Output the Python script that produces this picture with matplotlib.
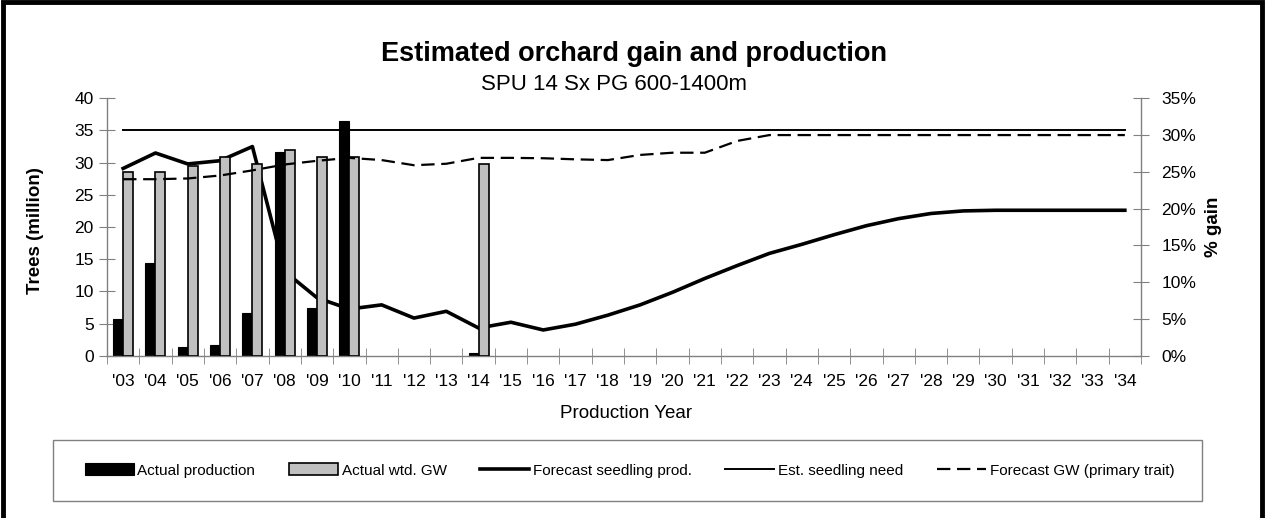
import numpy as np
import matplotlib
matplotlib.use("Agg")
import matplotlib.pyplot as plt
from matplotlib.patches import Rectangle
from matplotlib.ticker import FixedLocator, FuncFormatter

plt.rcParams['font.family'] = ['Liberation Sans', 'DejaVu Sans']

# lata produkcji '03 .. '34
lata = [f"'{r % 100:02d}" for r in range(2003, 2035)]

nan = np.nan
# Actual production (Trees, million) - lewa oś
actual_production = [5.65, 14.45, 1.4, 1.7, 6.7, 31.6, 7.4, 36.5, nan, nan, nan, 0.35] + [nan] * 20
# Actual wtd. GW (% gain) - prawa oś
actual_gw = [25.0, 25.0, 25.8, 27.0, 26.0, 28.0, 27.0, 27.0, nan, nan, nan, 26.0] + [nan] * 20
# Forecast seedling prod. (Trees, million)
forecast_prod = [29.1, 31.5, 29.8, 30.3, 32.5, 13.1, 9.0, 7.25, 7.9, 5.85, 6.9, 4.3,
                 5.2, 4.0, 4.9, 6.3, 7.9, 9.85, 12.0, 14.0, 15.9, 17.3, 18.8, 20.2,
                 21.3, 22.1, 22.5, 22.6, 22.6, 22.6, 22.6, 22.6]
# Est. seedling need (Trees, million)
seedling_need = [35.0] * 32
# Forecast GW (primary trait) (% gain)
forecast_gw = [24.0, 24.0, 24.1, 24.5, 25.2, 26.0, 26.5, 26.9, 26.6, 25.9, 26.1, 26.9,
               26.9, 26.85, 26.7, 26.6, 27.3, 27.6, 27.6, 29.2, 30.0, 30.0, 30.0, 30.0,
               30.0, 30.0, 30.0, 30.0, 30.0, 30.0, 30.0, 30.0]

x = np.arange(len(lata))
szer = 0.31
szary_os = '#808080'

fig = plt.figure(figsize=(12.67, 5.18), dpi=100)
ax = fig.add_axes([107 / 1267, 1 - 355.7 / 518, (1141 - 107) / 1267, (355.7 - 98.3) / 518])
ax2 = ax.twinx()

b1 = ax.bar(x - szer / 2, actual_production, width=szer, color='black', edgecolor='black', linewidth=0.8,
            label='Actual production', zorder=2)
l1, = ax.plot(x, forecast_prod, color='black', linewidth=2.6, label='Forecast seedling prod.', zorder=3)
l2, = ax.plot(x, seedling_need, color='black', linewidth=1.4, label='Est. seedling need', zorder=3)

b2 = ax2.bar(x + szer / 2, actual_gw, width=szer, color='#C0C0C0', edgecolor='black', linewidth=1.2,
             label='Actual wtd. GW', zorder=2)
l3, = ax2.plot(x, forecast_gw, color='black', linewidth=1.6, linestyle=(0, (6, 3)),
               label='Forecast GW (primary trait)', zorder=3)

ax.set_xlim(-0.5, len(lata) - 0.5)
ax.set_ylim(0, 40)
ax2.set_ylim(0, 35)
ax.set_yticks(np.arange(0, 41, 5))
ax2.set_yticks(np.arange(0, 36, 5))
ax2.yaxis.set_major_formatter(FuncFormatter(lambda v, p: f"{v:.0f}%"))

ax.set_xticks(x)
ax.set_xticklabels(lata)
ax.xaxis.set_minor_locator(FixedLocator(np.arange(-0.5, len(lata), 1.0)))

for a in (ax, ax2):
    for s in a.spines.values():
        s.set_color(szary_os)
        s.set_linewidth(1.0)
    a.spines['top'].set_visible(False)
    a.set_facecolor('none')
ax.spines['right'].set_visible(False)
ax2.spines['left'].set_visible(False)
ax2.spines['bottom'].set_visible(False)

ax.tick_params(axis='x', which='major', length=0, pad=13, labelsize=12.5)
ax.tick_params(axis='x', which='minor', length=11, direction='inout', color=szary_os)
ax.tick_params(axis='y', length=11, direction='inout', color=szary_os, labelsize=12.5, pad=4)
ax2.tick_params(axis='y', length=11, direction='inout', color=szary_os, labelsize=12.5, pad=9)

fig.text(36 / 1267, 1 - 231 / 518, 'Trees (million)', rotation=90, fontsize=13.5, fontweight='bold',
         ha='center', va='center')
fig.text(1213 / 1267, 1 - 227 / 518, '% gain', rotation=90, fontsize=13.5, fontweight='bold',
         ha='center', va='center')
fig.text(626 / 1267, 1 - 418 / 518, 'Production Year', fontsize=13.5, ha='center', va='baseline')

fig.text(634 / 1267, 1 - 61 / 518, 'Estimated orchard gain and production', fontsize=19.5,
         fontweight='bold', ha='center', va='baseline')
fig.text(614 / 1267, 1 - 90 / 518, 'SPU 14 Sx PG 600-1400m', fontsize=16, ha='center', va='baseline')

# ramka legendy
fig.patches.append(Rectangle((53 / 1267, 1 - 501 / 518), (1202 - 53) / 1267, (501 - 440) / 518,
                             transform=fig.transFigure, facecolor='white', edgecolor=szary_os,
                             linewidth=1.0, zorder=0))
uchwyty = [b1, b2, l1, l2, l3]
etykiety = [h.get_label() for h in uchwyty]
fig.legend(uchwyty, etykiety, loc='center', bbox_to_anchor=(629.5 / 1267, 1 - 470.5 / 518), ncol=5,
           frameon=False, fontsize=11, handlelength=3.2, handleheight=0.8, handletextpad=0.25,
           columnspacing=2.2)

# ramka wokół całego wykresu
fig.patches.append(Rectangle((3 / 1267, -0.05), 1259 / 1267, 1.05 - 2 / 518, transform=fig.transFigure,
                             facecolor='none', edgecolor='black', linewidth=3.5, zorder=5))

fig.savefig('out.png', dpi=100)
